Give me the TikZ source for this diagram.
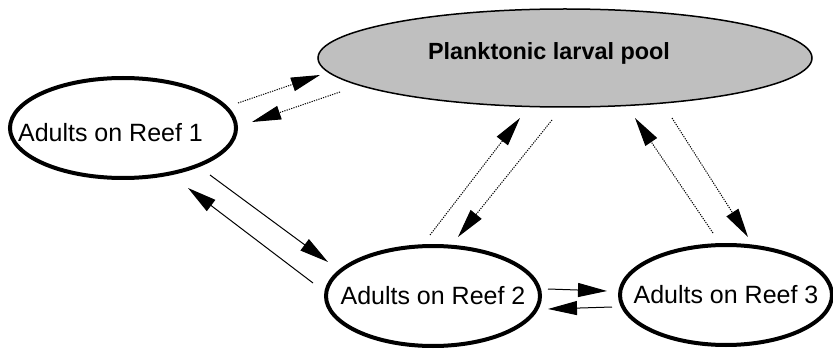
\documentclass[tikz,border=0pt]{standalone}
\usepackage{fontspec}
\setmainfont{Liberation Sans}
\usetikzlibrary{shapes.geometric,arrows.meta}

\begin{document}
\begin{tikzpicture}[x=1pt, y=-1pt,
    reef/.style={ellipse, draw, line width=4pt, inner xsep=-25pt, inner ysep=0pt,
        minimum width=214pt, minimum height=100pt,
        font=\fontsize{25}{30}\selectfont},
    poolnode/.style={ellipse, draw, line width=1.5pt, fill=black!25, inner sep=0pt,
        minimum width=494pt, minimum height=98pt,
        font=\fontsize{23.4}{28}\selectfont\bfseries},
    flow/.style={-{Triangle[length=29pt, width=14pt]}, line width=1pt},
    drift/.style={flow, dash pattern=on 1.2pt off 1.2pt}]
    \useasboundingbox (0,0) rectangle (833,350);

    % Larval pool and the three reefs
    \node[poolnode, text depth=13pt] (pool) at (565,58) {Planktonic larval pool\hspace*{32pt}};
    \node[reef, text height=27pt, text depth=0pt] (reef1) at (123,128) {Adults on Reef 1\hspace*{25pt}};
    \node[reef] (reef2) at (433,296) {Adults on Reef 2};
    \node[reef, minimum width=212pt] (reef3) at (726,295) {Adults on Reef 3};

    % Exchange with the larval pool (dotted)
    \draw[drift] ([shift={(115,-25)}]reef1.center) -- ([shift={(-245,17)}]pool.center);
    \draw[drift] ([shift={(-225,34)}]pool.center) -- ([shift={(129,-6)}]reef1.center);
    \draw[drift] ([shift={(-3,-61)}]reef2.center) -- ([shift={(-45,60)}]pool.center);
    \draw[drift] ([shift={(-13,62)}]pool.center) -- ([shift={(25,-59)}]reef2.center);
    \draw[drift] ([shift={(-13,-62)}]reef3.center) -- ([shift={(70,60)}]pool.center);
    \draw[drift] ([shift={(107,60)}]pool.center) -- ([shift={(22,-58)}]reef3.center);

    % Direct exchange between reefs (solid)
    \draw[flow] ([shift={(87,47)}]reef1.center) -- ([shift={(-105,-34)}]reef2.center);
    \draw[flow] ([shift={(-120,-13)}]reef2.center) -- ([shift={(65,60)}]reef1.center);
    \draw[flow] ([shift={(115,-7)}]reef2.center) -- ([shift={(-119,-4)}]reef3.center);
    \draw[flow] ([shift={(-114,12)}]reef3.center) -- ([shift={(115,13)}]reef2.center);

\end{tikzpicture}
\end{document}
